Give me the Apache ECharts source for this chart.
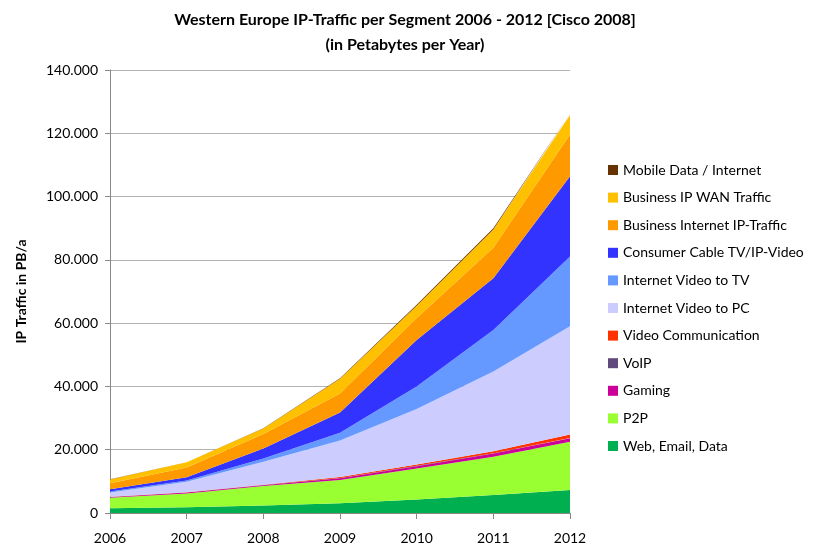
<!DOCTYPE html>
<html lang="en">
<head>
    <meta charset="UTF-8">
    <title>Western Europe IP-Traffic</title>
    <style>
        html, body { margin: 0; padding: 0; background: #fff; }
        #chart { width: 821px; height: 547px; }
    </style>
</head>
<body>
<div id="chart"></div>
<script src="https://cdn.jsdelivr.net/npm/echarts@6/dist/echarts.min.js"></script>
<script>
    // years on the x axis
    var years = ['2006', '2007', '2008', '2009', '2010', '2011', '2012'];

    // segment values, PB per year
    var webEmailData = [1500, 1800, 2400, 3100, 4300, 5700, 7300];
    var p2p = [3300, 4400, 6100, 7300, 9800, 12100, 15200];
    var gaming = [200, 250, 300, 600, 700, 1000, 1100];
    var voip = [50, 50, 50, 100, 100, 100, 100];
    var videoComm = [50, 50, 100, 300, 400, 600, 1100];
    var videoToPc = [1400, 3350, 7250, 11500, 17600, 25200, 34200];
    var videoToTv = [300, 400, 1000, 2500, 7100, 13100, 22100];
    var cableTv = [700, 1000, 3200, 6400, 14700, 16400, 25300];
    var bizInternet = [1900, 3100, 4600, 6000, 6900, 9600, 13200];
    var bizWan = [1200, 1600, 1700, 4600, 3900, 5800, 6200];
    var mobile = [50, 50, 100, 200, 300, 400, 500];

    var segments = [
        { name: 'Web, Email, Data', data: webEmailData, color: '#00B050' },
        { name: 'P2P', data: p2p, color: '#99FF33' },
        { name: 'Gaming', data: gaming, color: '#CC0099' },
        { name: 'VoIP', data: voip, color: '#604A7B' },
        { name: 'Video Communication', data: videoComm, color: '#FF3300' },
        { name: 'Internet Video to PC', data: videoToPc, color: '#CCCCFF' },
        { name: 'Internet Video to TV', data: videoToTv, color: '#6699FF' },
        { name: 'Consumer Cable TV/IP-Video', data: cableTv, color: '#3333FF' },
        { name: 'Business Internet IP-Traffic', data: bizInternet, color: '#FF9900' },
        { name: 'Business IP WAN Traffic', data: bizWan, color: '#FFC000' },
        { name: 'Mobile Data / Internet', data: mobile, color: '#663300' }
    ];

    var font = 'Lato, "Open Sans", sans-serif';

    function dotThousands(v) {
        if (v === 0) return '0';
        return String(v).replace(/\B(?=(\d{3})+(?!\d))/g, '.');
    }

    var chart = echarts.init(document.getElementById('chart'));

    var option = {
        animation: false,
        title: {
            text: 'Western Europe IP-Traffic per Segment 2006 - 2012 [Cisco 2008]\n(in Petabytes per Year)',
            left: 400,
            textAlign: 'center',
            top: 2,
            textStyle: {
                fontFamily: font,
                fontSize: 16,
                fontWeight: 'bold',
                color: '#000',
                lineHeight: 25
            }
        },
        legend: {
            orient: 'vertical',
            left: 603,
            top: 158,
            itemWidth: 10,
            itemHeight: 10,
            itemGap: 13.6,
            icon: 'rect',
            data: segments.map(function (s) { return s.name; }).reverse(),
            textStyle: {
                fontFamily: font,
                fontSize: 14,
                color: '#000'
            }
        },
        grid: {
            left: 110,
            right: 251,
            top: 70,
            bottom: 34
        },
        xAxis: {
            type: 'category',
            boundaryGap: false,
            data: years,
            axisLine: { lineStyle: { color: '#888', width: 1 } },
            axisTick: { show: true, length: 6, lineStyle: { color: '#888' } },
            axisLabel: {
                fontFamily: font,
                fontSize: 14,
                color: '#000',
                margin: 18
            }
        },
        yAxis: {
            type: 'value',
            min: 0,
            max: 140000,
            interval: 20000,
            name: 'IP Traffic in PB/a',
            nameLocation: 'middle',
            nameGap: 82,
            nameTextStyle: {
                fontFamily: font,
                fontSize: 14,
                fontWeight: 'bold',
                color: '#000'
            },
            axisLine: { show: true, lineStyle: { color: '#888', width: 1 } },
            axisTick: { show: true, length: 5, lineStyle: { color: '#888' } },
            axisLabel: {
                fontFamily: font,
                fontSize: 14,
                color: '#000',
                margin: 12,
                formatter: dotThousands
            },
            splitLine: { lineStyle: { color: '#B3B3B3', width: 1 } }
        },
        series: segments.map(function (s) {
            return {
                name: s.name,
                type: 'line',
                stack: 'total',
                data: s.data,
                symbol: 'none',
                color: s.color,
                lineStyle: { width: 0 },
                areaStyle: { color: s.color, opacity: 1 }
            };
        })
    };

    chart.setOption(option);
</script>
</body>
</html>
